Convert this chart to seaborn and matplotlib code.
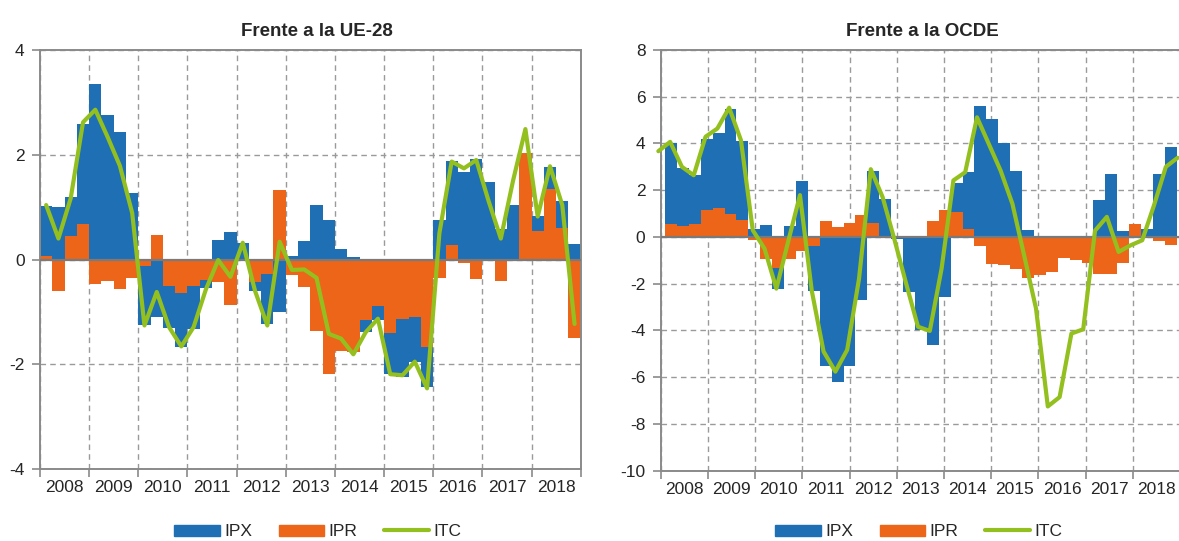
import numpy as np
import pandas as pd
import matplotlib.pyplot as plt
import seaborn as sns
from matplotlib.patches import Patch
from matplotlib.lines import Line2D
from matplotlib.ticker import NullFormatter

# Datos trimestrales (tasas de variacion, %)
years = [str(y) for y in range(2008, 2019)]

# Frente a la UE-28: 2008T1 - 2018T4
ue_ipx = [0.96, 1.00, 0.75, 1.91,
          3.36, 2.75, 2.43, 1.27,
          -1.13, -1.10, -0.80, -1.03,
          -0.81, -0.14, 0.37, 0.53,
          0.31, -0.17, -0.96, -1.00,
          0.06, 0.36, 1.04, 0.75,
          0.21, 0.04, -0.24, -0.26,
          -0.78, -1.12, -0.87, -0.77,
          0.75, 1.61, 1.68, 1.92,
          1.48, 0.58, 1.04, 0.00,
          0.29, 0.42, 0.51, 0.29]
ue_ipr = [0.06, -0.60, 0.45, 0.68,
          -0.47, -0.41, -0.57, -0.35,
          -0.13, 0.47, -0.51, -0.64,
          -0.51, -0.40, -0.43, -0.86,
          -0.02, -0.43, -0.27, 1.33,
          -0.30, -0.52, -1.37, -2.19,
          -1.74, -1.76, -1.15, -0.89,
          -1.41, -1.13, -1.09, -1.67,
          -0.36, 0.27, -0.06, -0.38,
          0.00, -0.41, 0.00, 2.03,
          0.54, 1.34, 0.61, -1.50]
ue_itc = [1.04, 0.40, 1.17, 2.62,
          2.86, 2.34, 1.79, 0.89,
          -1.26, -0.62, -1.29, -1.66,
          -1.29, -0.57, -0.01, -0.33,
          0.32, -0.60, -1.26, 0.34,
          -0.20, -0.19, -0.35, -1.42,
          -1.51, -1.81, -1.39, -1.13,
          -2.19, -2.21, -1.95, -2.46,
          0.50, 1.87, 1.74, 1.90,
          1.12, 0.40, 1.51, 2.49,
          0.82, 1.78, 1.04, -1.23]

# Frente a la OCDE: barras 2008T1 - 2018T3, ITC desde 2007T4
oc_ipx = [3.43, 2.50, 2.10, 3.02,
          3.21, 4.46, 3.39, 0.36,
          0.50, -0.91, 0.46, 2.41,
          -1.90, -5.53, -6.19, -5.50,
          -2.71, 2.22, 1.64, -0.10,
          -2.34, -3.97, -4.63, -2.58,
          1.24, 2.44, 5.59, 5.05,
          4.03, 2.82, 0.31, 0.00,
          0.00, 0.00, 0.00, 0.00,
          1.60, 2.70, 0.25, 0.00,
          0.36, 2.71, 3.86]
oc_ipr = [0.57, 0.46, 0.54, 1.17,
          1.26, 1.00, 0.71, -0.14,
          -0.96, -1.33, -0.96, -0.61,
          -0.39, 0.67, 0.43, 0.61,
          0.96, 0.61, 0.00, 0.00,
          0.00, 0.00, 0.70, 1.17,
          1.08, 0.36, -0.38, -1.14,
          -1.20, -1.35, -1.77, -1.63,
          -1.51, -0.90, -1.00, -1.10,
          -1.58, -1.58, -1.10, 0.57,
          -0.05, -0.19, -0.36]
oc_itc = [3.67, 4.07, 3.00, 2.64, 4.29, 4.64, 5.53, 4.14, 0.29, -0.50,
          -2.21, -0.20, 1.79, -2.30, -4.90, -5.76, -4.83, -1.80, 2.90, 1.71,
          -0.10, -2.00, -3.84, -4.02, -1.35, 2.42, 2.77, 5.12, 3.98, 2.84,
          1.42, -0.80, -3.06, -7.25, -6.85, -4.13, -3.95, 0.27, 0.86, -0.64,
          -0.36, -0.14, 1.36, 3.00, 3.39]

BLUE = '#1f6fb4'
ORANGE = '#ec6519'
GREEN = '#93c01f'
GRID = '#9a9a9a'
FRAME = '#8a8a8a'

sns.set_theme(style='white')
plt.rcParams['font.family'] = ['Liberation Sans', 'DejaVu Sans']
plt.rcParams['axes.unicode_minus'] = False


def blue_height(ipx, ipr):
    # IPR va pegado al cero; IPX se apila encima cuando tienen el mismo signo
    ipx = np.asarray(ipx)
    ipr = np.asarray(ipr)
    same = np.sign(ipx) == np.sign(ipr)
    return np.where(same, ipx + ipr, ipx)


def draw_panel(ax, x_bar, ipx, ipr, x_line, itc, yticks, title, title_x):
    df = pd.DataFrame({'x': x_bar, 'blue': blue_height(ipx, ipr), 'ipr': ipr})
    sns.barplot(data=df, x='x', y='blue', native_scale=True, width=1,
                color=BLUE, saturation=1, linewidth=0, errorbar=None,
                ax=ax, zorder=2)
    sns.barplot(data=df, x='x', y='ipr', native_scale=True, width=1,
                color=ORANGE, saturation=1, linewidth=0, errorbar=None,
                ax=ax, zorder=2)
    ax.axhline(0, color='#7a7a7a', lw=1.6, zorder=3)
    sns.lineplot(x=x_line, y=itc, color=GREEN, lw=3, ax=ax, zorder=4,
                 clip_on=False, solid_joinstyle='round', solid_capstyle='round')

    ax.set(xlabel='', ylabel='')
    ax.set_xlim(0, 44)
    ax.set_ylim(yticks[0], yticks[-1])

    # ticks en los cambios de ano, etiquetas en el centro
    ax.set_xticks(np.arange(0, 45, 4))
    ax.xaxis.set_major_formatter(NullFormatter())
    ax.set_xticks(np.arange(2, 44, 4), minor=True)
    ax.set_xticklabels(years, minor=True)
    ax.tick_params(axis='x', which='major', direction='out', length=6,
                   width=1.2, color=FRAME, bottom=True)
    ax.tick_params(axis='x', which='minor', length=0, pad=8, labelsize=12.5)
    ax.set_yticks(yticks)
    ax.set_yticklabels([str(v) for v in yticks])
    ax.tick_params(axis='y', direction='out', length=6, width=1.2,
                   color=FRAME, left=True, pad=5, labelsize=12.5)

    ax.set_axisbelow(True)
    ax.grid(axis='both', which='major', color=GRID, ls=(0, (4, 3)), lw=1)
    for s in ax.spines.values():
        s.set_visible(True)
        s.set_color(FRAME)
        s.set_linewidth(1.4)

    ax.set_title(title, fontsize=13.5, fontweight='bold', pad=10, x=title_x)


fig = plt.figure(figsize=(11.79, 5.41), dpi=100)
W, H = 1179, 541
ax1 = fig.add_axes([40 / W, 1 - 469 / H, 540.7 / W, 419 / H])
ax2 = fig.add_axes([660.7 / W, 1 - 470.7 / H, 519.3 / W, 420.7 / H])

draw_panel(ax1, np.arange(44) + 0.5, ue_ipx, ue_ipr,
           np.arange(44) + 0.5, ue_itc,
           list(range(-4, 5, 2)), 'Frente a la UE-28', 0.512)
draw_panel(ax2, np.linspace(0.87, 43.22, 43), oc_ipx, oc_ipr,
           np.arange(45) - 0.2, oc_itc,
           list(range(-10, 9, 2)), 'Frente a la OCDE', 0.503)

handles = [Patch(color=BLUE, label='IPX'),
           Patch(color=ORANGE, label='IPR'),
           Line2D([], [], color=GREEN, lw=3, label='ITC')]
for cx in (318 / W, 919 / W):
    fig.legend(handles=handles, loc='center', bbox_to_anchor=(cx, 0.017),
               ncol=3, frameon=False, fontsize=12.5, handlelength=2.6,
               handleheight=0.6, handletextpad=0.25, columnspacing=1.55,
               borderaxespad=0, borderpad=0)

fig.savefig('out.png', dpi=100)
